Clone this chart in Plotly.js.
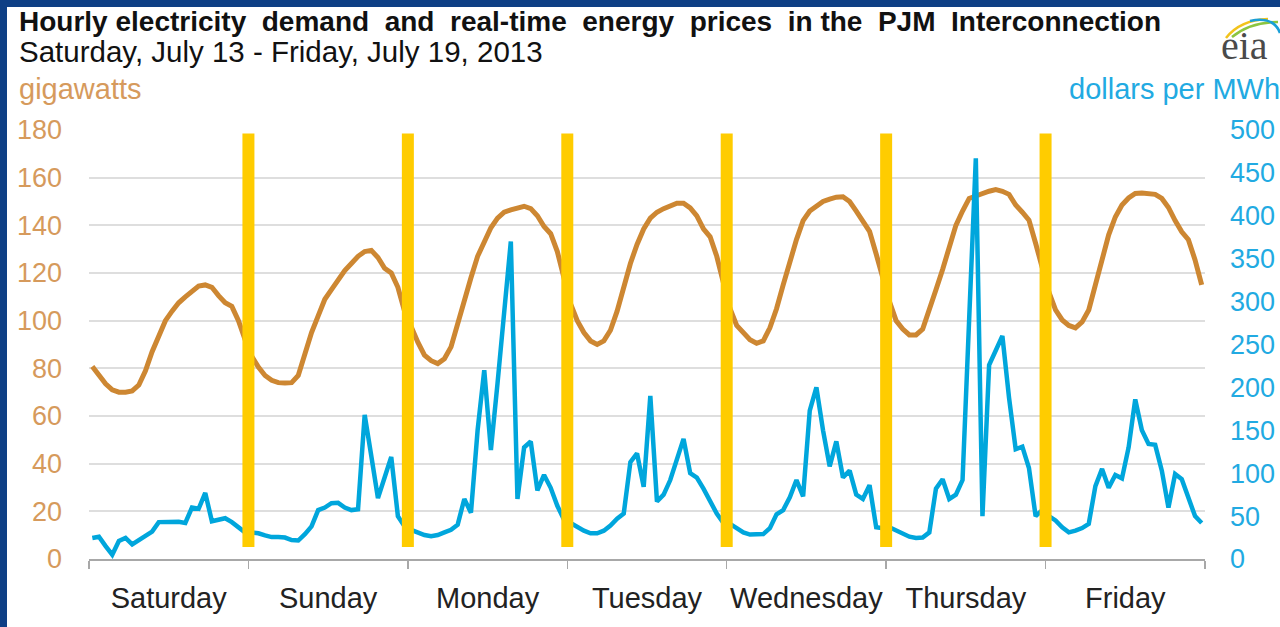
<!DOCTYPE html>
<html>
<head>
<meta charset="utf-8">
<script src="https://cdn.plot.ly/plotly-3.0.1.min.js"></script>
<style>
  html, body { margin: 0; padding: 0; width: 1280px; height: 627px; overflow: hidden; background: #fff; }
  #chart { position: absolute; left: 0; top: 0; width: 1280px; height: 627px; }
  .frame { position: absolute; background: #0e3f85; pointer-events: none; z-index: 5; }
  #frameTop { left: 0; top: 0; width: 1280px; height: 7px; }
  #frameLeft { left: 0; top: 0; width: 7px; height: 627px; }
</style>
</head>
<body>
<div id="chart"></div>
<div class="frame" id="frameTop"></div>
<div class="frame" id="frameLeft"></div>
<script>
// ---- Data (hourly, Sat Jul 13 - Fri Jul 19, 2013) ----
const startDay = '2013-07-13';
const dayBoundaries = ['2013-07-14', '2013-07-15', '2013-07-16', '2013-07-17', '2013-07-18', '2013-07-19'];

// Demand, gigawatts
const demandSat = [80.8, 77, 73.5, 71, 70, 70, 70.5, 73, 79, 87, 94, 100, 104, 107.5, 110, 112.5, 114.5, 115, 114, 110.5, 107.5, 106, 100, 92];
const demandSun = [85, 80.5, 77, 75, 74, 73.8, 74, 77, 86, 95, 102, 109, 113, 117, 121, 124, 127, 129, 129.5, 126.5, 122, 120, 114, 104];
const demandMon = [97, 91, 85.5, 83.2, 82, 84, 89, 99, 109, 118, 127, 133.5, 139, 143, 145.5, 146.5, 147.5, 148, 147, 144, 139.5, 136.5, 129, 117];
const demandTue = [107, 100, 95, 91.5, 90, 91.5, 96, 104, 114, 124, 132, 138.5, 143, 145.5, 147, 148.3, 149.3, 149.3, 147.3, 144, 138.5, 135.2, 127, 116];
const demandWed = [105, 98, 94.7, 92, 90.5, 91.5, 97, 105, 115, 125, 134, 142, 146, 148, 150, 151, 151.8, 152, 150, 146, 141.5, 137.5, 128, 118];
const demandThu = [108, 100, 96.5, 94, 94, 96.5, 104, 113, 121.5, 130.5, 140, 146, 151.3, 152.3, 153.5, 154.3, 155, 154.3, 153, 148.5, 145.5, 142.2, 132.5, 123];
const demandFri = [112, 104.5, 100.3, 98, 97, 99.5, 104.5, 115, 126.5, 136, 143.5, 148.5, 151.5, 153.4, 153.6, 153.5, 153, 151.3, 147.5, 142, 137.3, 134, 125.5, 115];

// Real-time price, dollars per MWh
const priceSat = [24.5, 26, 15, 5, 21, 24.5, 17, 22, 28.5, 32, 43, 43, 42.5, 43.5, 42, 60, 58.5, 77, 44, 45.5, 47.5, 43, 37, 31];
const priceSun = [31, 30, 27.5, 25.5, 25.5, 25, 22, 21.5, 29, 38, 57, 60, 65, 65.5, 60, 57, 58, 168, 120, 71, 95, 119, 50, 38];
const priceMon = [34, 31, 28, 26.5, 28, 31, 34, 40, 70, 54, 150, 220, 127, 205, 290, 370, 70, 130, 137, 80, 98, 83, 62, 46];
const priceTue = [42, 37, 33, 30, 30, 33, 39, 47, 53, 113, 123, 84, 190, 67, 75, 92, 115, 140, 100, 95, 82, 68, 53, 42];
const priceWed = [41, 36, 31, 28.5, 28.5, 29, 36, 52, 57, 72, 92, 73, 173, 200, 150, 108, 137, 95, 103, 75, 70, 86, 37, 36];
const priceThu = [37, 33, 29, 26, 24.5, 25, 31, 82, 93, 70, 75, 92, 280, 467, 50, 226, 243, 260, 188, 128, 131, 106, 50, 57];
const priceFri = [50, 45, 37, 31, 33, 36, 41, 85, 105, 83, 98, 94, 130, 186, 150, 134, 133, 103, 60, 99, 93, 70, 50, 42];

const leftTicks = [0, 20, 40, 60, 80, 100, 120, 140, 160, 180];
const rightTicks = [0, 50, 100, 150, 200, 250, 300, 350, 400, 450, 500];

const demand = [].concat(demandSat, demandSun, demandMon, demandTue, demandWed, demandThu, demandFri);
const price = [].concat(priceSat, priceSun, priceMon, priceTue, priceWed, priceThu, priceFri);

// hourly timestamps, centred in each hour
function pad(n) { return (n < 10 ? '0' : '') + n; }
const t0 = Date.UTC(2013, 6, 13, 0, 30);
const times = demand.map((_, i) => {
  const d = new Date(t0 + i * 3600000);
  return d.getUTCFullYear() + '-' + pad(d.getUTCMonth() + 1) + '-' + pad(d.getUTCDate()) + ' ' +
         pad(d.getUTCHours()) + ':' + pad(d.getUTCMinutes());
});

const FONT = 'Liberation Sans, Arial, sans-serif';
const ORANGE = '#cd8732';
const ORANGE_TXT = '#d69a5c';
const BLUE = '#00a6dc';
const BLUE_TXT = '#22aae2';

const traces = [
  { x: times, y: demand, type: 'scatter', mode: 'lines', name: 'demand',
    line: { color: ORANGE, width: 5 }, yaxis: 'y', hoverinfo: 'x+y' },
  { x: times, y: price, type: 'scatter', mode: 'lines', name: 'price',
    line: { color: BLUE, width: 4.5 }, yaxis: 'y2', hoverinfo: 'x+y' }
];

// pixel -> paper helpers for decorative items
const PL = 89, PT = 130, PW = 1116, PH = 429;
function px(x) { return (x - PL) / PW; }
function py(y) { return (PT + PH - y) / PH; }

const shapes = dayBoundaries.map(d => ({
  type: 'line', xref: 'x', yref: 'y', x0: d, x1: d, y0: 5, y1: 178.5,
  line: { color: '#ffcc00', width: 12 }, layer: 'above'
}));

function arc(x0, y0, cx, cy, x1, y1, color, w) {
  return { type: 'path', xref: 'paper', yref: 'paper',
    path: 'M ' + px(x0) + ',' + py(y0) + ' Q ' + px(cx) + ',' + py(cy) + ' ' + px(x1) + ',' + py(y1),
    line: { color: color, width: w }, layer: 'above' };
}
shapes.push(arc(1226, 38, 1240, 20, 1268, 19, '#f2c31b', 2.5));
shapes.push(arc(1232, 37, 1250, 22, 1278, 22, '#8cc540', 2.5));
shapes.push(arc(1250, 21, 1274, 16, 1280, 33, '#1aa0d8', 2.5));

const annotations = [
  { text: '<b>Hourly electricity  demand  and  real-time  energy  prices  in the  PJM  Interconnection</b>',
    xref: 'paper', yref: 'paper', x: px(17), y: py(21), xanchor: 'left', yanchor: 'middle',
    showarrow: false, font: { family: FONT, size: 28, color: '#111' } },
  { text: 'Saturday, July 13 - Friday, July 19, 2013',
    xref: 'paper', yref: 'paper', x: px(17), y: py(52), xanchor: 'left', yanchor: 'middle',
    showarrow: false, font: { family: FONT, size: 29.5, color: '#111' } },
  { text: 'gigawatts',
    xref: 'paper', yref: 'paper', x: px(17), y: py(89), xanchor: 'left', yanchor: 'middle',
    showarrow: false, font: { family: FONT, size: 29, color: ORANGE_TXT } },
  { text: 'dollars per MWh',
    xref: 'paper', yref: 'paper', x: px(1282), y: py(89), xanchor: 'right', yanchor: 'middle',
    showarrow: false, font: { family: FONT, size: 29, color: BLUE_TXT } },
  { text: 'eia',
    xref: 'paper', yref: 'paper', x: px(1245), y: py(46), xanchor: 'center', yanchor: 'middle',
    showarrow: false, font: { family: 'Liberation Serif, Times New Roman, serif', size: 40, color: '#4a4a4a' } }
];

const layout = {
  width: 1280, height: 627,
  margin: { l: 89, r: 75, t: 130, b: 68, pad: 0 },
  paper_bgcolor: '#ffffff', plot_bgcolor: '#ffffff',
  showlegend: false,
  xaxis: {
    type: 'date',
    range: ['2013-07-13 00:00', '2013-07-20 00:00'],
    tick0: startDay, dtick: 86400000,
    tickformat: '%A', ticklabelmode: 'period',
    ticks: 'outside', ticklen: 8, tickwidth: 1.5, tickcolor: '#a8a8a8',
    showline: true, linecolor: '#a8a8a8', linewidth: 2,
    showgrid: false, zeroline: false,
    ticklabelstandoff: 4,
    tickfont: { family: FONT, size: 29, color: '#222' }
  },
  yaxis: {
    range: [0, 180], tickvals: leftTicks, ticktext: leftTicks.map(String),
    showgrid: true, gridcolor: '#dedede', gridwidth: 2,
    zeroline: false, showline: false, ticks: '',
    ticklabelstandoff: 26,
    tickfont: { family: FONT, size: 27, color: ORANGE_TXT }
  },
  yaxis2: {
    range: [0, 500], tickvals: rightTicks, ticktext: rightTicks.map(String),
    overlaying: 'y', side: 'right',
    showgrid: false, zeroline: false, showline: false, ticks: '',
    ticklabelstandoff: 24,
    tickfont: { family: FONT, size: 27, color: BLUE_TXT }
  },
  shapes: shapes,
  annotations: annotations
};

Plotly.newPlot('chart', traces, layout, { displayModeBar: false, staticPlot: true });
</script>
</body>
</html>
